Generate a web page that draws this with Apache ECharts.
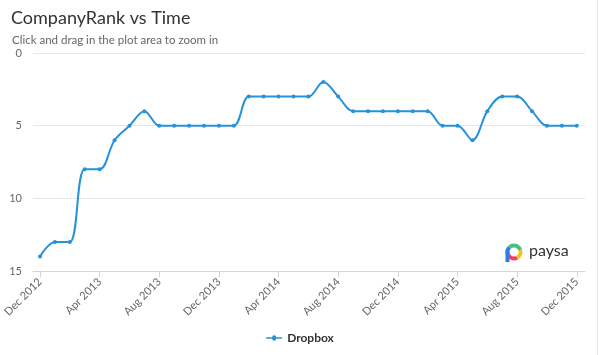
<!DOCTYPE html>
<html>
<head>
<meta charset="utf-8">
<script src="https://cdn.jsdelivr.net/npm/echarts@6/dist/echarts.min.js"></script>
<style>
html,body{margin:0;padding:0;background:#fff;}
#c{width:600px;height:355px;}
</style>
</head>
<body>
<div id="c"></div>
<script>
var months = ["Dec 2012","Jan 2013","Feb 2013","Mar 2013","Apr 2013","May 2013","Jun 2013","Jul 2013","Aug 2013","Sep 2013","Oct 2013","Nov 2013","Dec 2013","Jan 2014","Feb 2014","Mar 2014","Apr 2014","May 2014","Jun 2014","Jul 2014","Aug 2014","Sep 2014","Oct 2014","Nov 2014","Dec 2014","Jan 2015","Feb 2015","Mar 2015","Apr 2015","May 2015","Jun 2015","Jul 2015","Aug 2015","Sep 2015","Oct 2015","Nov 2015","Dec 2015"];
var dropbox = [14,13,13,8,8,6,5,4,5,5,5,5,5,5,3,3,3,3,3,2,3,4,4,4,4,4,4,5,5,6,4,3,3,4,5,5,5];
var xTickIdx = [0,4,8,12,16,20,24,28,32,36];
var yTicks = [0,5,10,15];

var chart = echarts.init(document.getElementById('c'), null, {renderer:'canvas'});
var lineColor = '#2692d8';
var option = {
  animation:false,
  title:[{
    text:'CompanyRank vs Time', left:6, top:4,
    textStyle:{fontFamily:'Lato', fontSize:18, fontWeight:'normal', color:'#333'}
  },{
    text:'Click and drag in the plot area to zoom in', left:7, top:29,
    textStyle:{fontFamily:'Lato', fontSize:11.5, fontWeight:'normal', color:'#666'}
  }],
  legend:{
    bottom:6, left:'center', itemWidth:16, itemHeight:8,
    textStyle:{fontFamily:'Lato', fontSize:12, fontWeight:'bold', color:'#333'},
    data:[{name:'Dropbox', icon:'path://M0,3.2L6,3.2A2,2 0 1 1 10,3.2L16,3.2L16,4.8L10,4.8A2,2 0 1 1 6,4.8L0,4.8Z'}]
  },
  grid:{left:33, right:15, top:53, bottom:84, containLabel:false},
  xAxis:{
    type:'value', min:-0.47, max:36.55, position:'bottom',
    axisLine:{show:true, onZero:false, lineStyle:{color:'#ccd6eb', width:1}},
    axisTick:{show:true, inside:false, customValues:xTickIdx, length:6, lineStyle:{color:'#ccd6eb', width:1}},
    axisLabel:{customValues:xTickIdx, rotate:45, margin:9, color:'#666', fontFamily:'Lato', fontSize:11,
      formatter:function(v){ return months[Math.round(v)] || ''; }},
    splitLine:{show:false}
  },
  yAxis:{
    type:'value', inverse:true, min:0, max:15, interval:5,
    axisLine:{show:false}, axisTick:{show:false},
    axisLabel:{color:'#666', fontFamily:'Lato', fontSize:11, margin:11},
    splitLine:{lineStyle:{color:'#e6e6e6', width:1}}
  },
  series:[{
    name:'Dropbox', type:'line', smooth:0.35,
    data: dropbox.map(function(v,i){return [i,v];}),
    symbol:'circle', symbolSize:4, showSymbol:true,
    lineStyle:{color:lineColor, width:2},
    itemStyle:{color:lineColor}
  }],
  graphic:[
    {type:'line', shape:{x1:597.5,y1:0,x2:597.5,y2:355}, style:{stroke:'#e8e8e8', lineWidth:1}},
    {type:'arc', shape:{cx:514, cy:252, r:6.5, startAngle:-Math.PI*0.75, endAngle:-Math.PI*0.1}, style:{stroke:'#3fc47a', lineWidth:4, fill:null}},
    {type:'arc', shape:{cx:514, cy:252, r:6.5, startAngle:-Math.PI*0.1, endAngle:Math.PI*0.35}, style:{stroke:'#f4c21a', lineWidth:4, fill:null}},
    {type:'arc', shape:{cx:514, cy:252, r:6.5, startAngle:Math.PI*0.35, endAngle:Math.PI*0.85}, style:{stroke:'#ef3e6a', lineWidth:4, fill:null}},
    {type:'arc', shape:{cx:514, cy:252, r:6.5, startAngle:Math.PI*0.85, endAngle:Math.PI*1.25}, style:{stroke:'#2f7de1', lineWidth:4, fill:null}},
    {type:'line', shape:{x1:507.5, y1:252, x2:507.5, y2:262}, style:{stroke:'#2f7de1', lineWidth:4}},
    {type:'text', left:529, top:243, style:{text:'paysa', fontFamily:'Lato', fontSize:16, fill:'#333'}}
  ]
};
chart.setOption(option);
</script>
</body>
</html>
